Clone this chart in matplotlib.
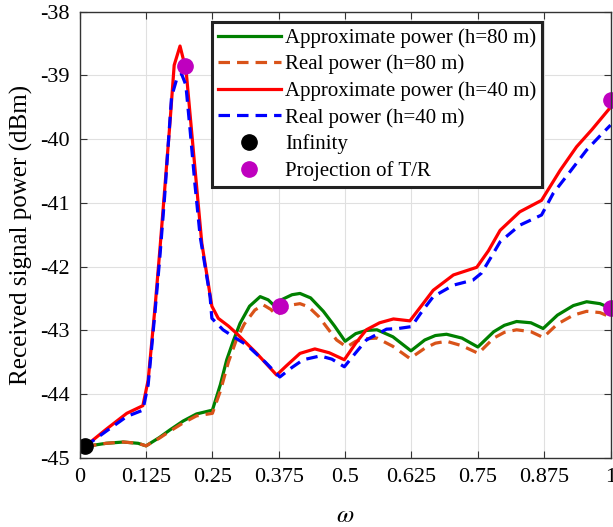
import matplotlib
matplotlib.use('Agg')
from matplotlib import pyplot as plt

# omega axis values and received power (dBm)
w_a80 = [0.01, 0.05, 0.082, 0.11, 0.125, 0.15, 0.17, 0.195, 0.22, 0.25, 0.265, 0.277, 0.29, 0.302, 0.32,
         0.34, 0.355, 0.365, 0.38, 0.40, 0.415, 0.435, 0.459, 0.48, 0.5, 0.52, 0.54, 0.56, 0.59, 0.624,
         0.65, 0.67, 0.691, 0.72, 0.75, 0.78, 0.80, 0.823, 0.85, 0.873, 0.9, 0.93, 0.955, 0.98, 1.0]
p_a80 = [-44.82, -44.77, -44.75, -44.77, -44.81, -44.68, -44.56, -44.42, -44.31, -44.25, -43.85, -43.46,
         -43.15, -42.89, -42.62, -42.47, -42.52, -42.60, -42.52, -42.44, -42.42, -42.49, -42.70, -42.93,
         -43.17, -43.05, -43.00, -42.99, -43.10, -43.32, -43.15, -43.08, -43.06, -43.12, -43.26, -43.02,
         -42.92, -42.86, -42.88, -42.97, -42.76, -42.61, -42.55, -42.58, -42.65]

w_r80 = [0.01, 0.05, 0.082, 0.11, 0.125, 0.15, 0.17, 0.195, 0.22, 0.25, 0.265, 0.28, 0.295, 0.31, 0.33,
         0.346, 0.36, 0.371, 0.385, 0.40, 0.415, 0.431, 0.45, 0.47, 0.484, 0.503, 0.52, 0.54, 0.56, 0.59,
         0.622, 0.65, 0.67, 0.691, 0.72, 0.751, 0.78, 0.80, 0.823, 0.85, 0.873, 0.9, 0.93, 0.955, 0.98, 1.0]
p_r80 = [-44.82, -44.77, -44.75, -44.77, -44.81, -44.69, -44.58, -44.45, -44.34, -44.30, -43.95, -43.50,
         -43.15, -42.90, -42.68, -42.60, -42.67, -42.76, -42.68, -42.60, -42.58, -42.63, -42.78, -43.00,
         -43.15, -43.26, -43.17, -43.13, -43.12, -43.25, -43.44, -43.28, -43.20, -43.17, -43.24, -43.36,
         -43.12, -43.03, -42.99, -43.02, -43.11, -42.90, -42.76, -42.70, -42.72, -42.79]

w_a40 = [0.01, 0.05, 0.0887, 0.119, 0.129, 0.142, 0.151, 0.158, 0.170, 0.178, 0.189, 0.2004, 0.214, 0.230,
         0.249, 0.261, 0.28, 0.296, 0.3335, 0.36, 0.371, 0.39, 0.415, 0.443, 0.47, 0.4985, 0.52, 0.54,
         0.565, 0.591, 0.622, 0.645, 0.666, 0.704, 0.748, 0.77, 0.792, 0.829, 0.870, 0.905, 0.936, 0.965,
         0.98, 1.0]
p_a40 = [-44.82, -44.55, -44.30, -44.18, -43.78, -42.63, -41.74, -41.01, -39.75, -38.84, -38.54, -38.92,
         -40.17, -41.63, -42.62, -42.81, -42.93, -43.05, -43.36, -43.60, -43.70, -43.55, -43.36, -43.29,
         -43.35, -43.46, -43.20, -42.99, -42.88, -42.82, -42.85, -42.60, -42.37, -42.13, -42.01, -41.75,
         -41.43, -41.14, -40.96, -40.49, -40.12, -39.85, -39.70, -39.50]

w_r40 = [0.01, 0.05, 0.0887, 0.119, 0.129, 0.142, 0.151, 0.16, 0.173, 0.183, 0.192, 0.20, 0.208, 0.217,
         0.227, 0.2456, 0.249, 0.27, 0.29, 0.315, 0.35, 0.377, 0.40, 0.421, 0.453, 0.475, 0.4985, 0.52,
         0.54, 0.578, 0.60, 0.625, 0.645, 0.666, 0.704, 0.741, 0.757, 0.775, 0.792, 0.829, 0.870, 0.892,
         0.92, 0.955, 0.98, 1.0]
p_r40 = [-44.82, -44.58, -44.35, -44.25, -43.85, -42.70, -41.85, -40.90, -39.34, -39.05, -38.98, -39.15,
         -39.86, -40.70, -41.53, -42.47, -42.81, -42.99, -43.10, -43.23, -43.50, -43.73, -43.58, -43.46,
         -43.40, -43.45, -43.57, -43.35, -43.15, -42.98, -42.97, -42.94, -42.70, -42.47, -42.29, -42.21,
         -42.10, -41.85, -41.61, -41.35, -41.19, -40.85, -40.55, -40.17, -39.95, -39.78]

w_inf = [0.01]
p_inf = [-44.82]
w_proj = [0.1985, 0.377, 1.0, 1.0]
p_proj = [-38.86, -42.62, -42.65, -39.39]

xticks = [0, 0.125, 0.25, 0.375, 0.5, 0.625, 0.75, 0.875, 1]
xticklabels = ['0', '0.125', '0.25', '0.375', '0.5', '0.625', '0.75', '0.875', '1']
yticks = [-45, -44, -43, -42, -41, -40, -39, -38]

plt.rcParams['font.family'] = ['Liberation Serif', 'DejaVu Serif']
plt.rcParams['mathtext.fontset'] = 'stix'
plt.rcParams['axes.unicode_minus'] = False

fig = plt.figure(figsize=(6.13, 5.27), dpi=100)
ax = fig.add_axes([0.13, 0.131, 0.866, 0.847])

lw = 2.3
ax.plot(w_a80, p_a80, color='#008000', lw=lw, label='Approximate power (h=80 m)')
ax.plot(w_r80, p_r80, color='#D95319', lw=lw, ls=(0, (3.6, 2.2)), label='Real power (h=80 m)')
ax.plot(w_a40, p_a40, color='#FF0000', lw=lw, label='Approximate power (h=40 m)')
ax.plot(w_r40, p_r40, color='#0000FF', lw=lw, ls=(0, (3.6, 2.2)), label='Real power (h=40 m)')
ax.plot(w_inf, p_inf, 'o', color='k', ms=11, label='Infinity')
ax.plot(w_proj, p_proj, 'o', color='#BF00BF', ms=11, label='Projection of T/R', clip_on=False)

ax.set_xlim(0, 1)
ax.set_ylim(-45, -38)
ax.set_xticks(xticks)
ax.set_xticklabels(xticklabels)
ax.set_yticks(yticks)
ax.grid(True, color='#e0e0e0', lw=0.8)
ax.set_axisbelow(True)
ax.tick_params(direction='in', top=True, right=True, labelsize=16, length=5, color='#333333', pad=7)
for s in ax.spines.values():
    s.set_color('#333333')
    s.set_linewidth(1.0)

ax.set_xlabel(r'$\omega$', fontsize=18, labelpad=13)
ax.set_ylabel('Received signal power (dBm)', fontsize=18, labelpad=5)

leg = ax.legend(loc='upper left', bbox_to_anchor=(0.249, 0.977), fontsize=15, frameon=True,
                fancybox=False, handlelength=3.0, handletextpad=0.2, labelspacing=0.33,
                borderpad=0.3, borderaxespad=0)
leg.get_frame().set_edgecolor('#222222')
leg.get_frame().set_linewidth(2.2)
leg.get_frame().set_alpha(1)

fig.savefig('out.png', dpi=100)
